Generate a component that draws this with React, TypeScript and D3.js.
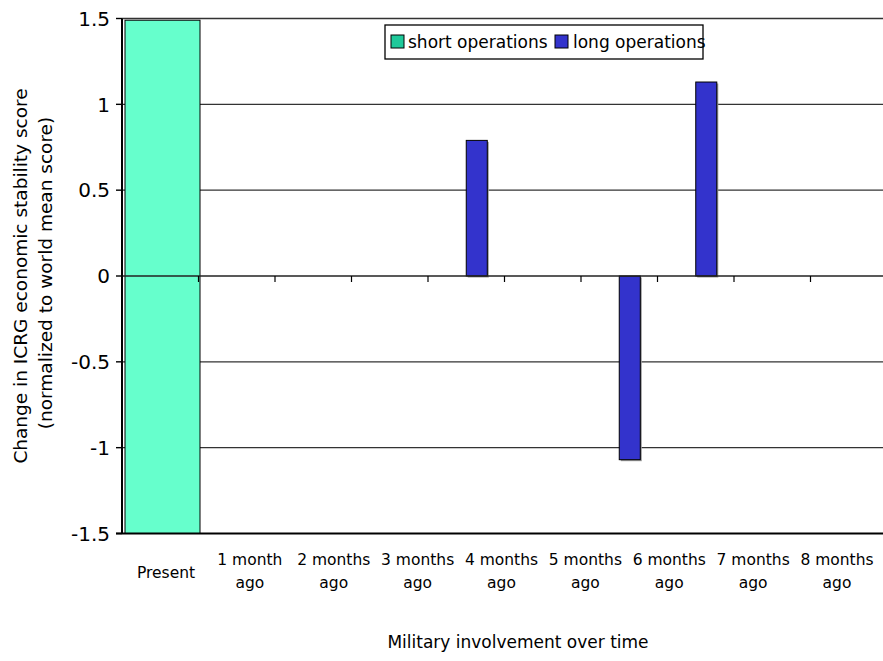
import React from "react";
import * as d3 from "d3";

// ---- data ----
const slots = ["s0", "s1", "s2", "s3", "s4", "s5", "s6", "s7", "s8", "s9"];
const shortOps = [1.49, 0, 0, 0, 0, 0, 0, 0, 0, 0];
const longOps = [0, 0, 0, 0, 0.79, 0, -1.07, 1.13, 0, 0];
const categoryLabels = [
  ["Present"],
  ["1 month", "ago"],
  ["2 months", "ago"],
  ["3 months", "ago"],
  ["4 months", "ago"],
  ["5 months", "ago"],
  ["6 months", "ago"],
  ["7 months", "ago"],
  ["8 months", "ago"],
];
const yTicks = [1.5, 1, 0.5, 0, -0.5, -1, -1.5];
const seriesNames = ["short operations", "long operations"];

// ---- styles ----
const W = 883;
const H = 661;
const FONT = "'DejaVu Sans', Verdana, sans-serif";
const SHORT_FILL = "#66ffcc";
const SHORT_LEGEND = "#1fc99a";
const LONG_FILL = "#3333cc";

export default function App() {
  const plot = { left: 122, right: 887, top: 18.5, bottom: 533.5 };
  const x = d3.scaleBand<string>().domain(slots).range([plot.left, plot.right]).padding(0);
  const y = d3.scaleLinear().domain([-1.5, 1.5]).range([plot.bottom, plot.top]);
  const labelX = d3
    .scalePoint<string>()
    .domain(categoryLabels.map((d) => d.join(" ")))
    .range([166, 837]);
  const bw = x.bandwidth();

  return (
    <svg
      width={W}
      height={H}
      style={{ position: "absolute", left: 0, top: 0, background: "#fff" }}
      fontFamily={FONT}
    >
      <rect x={0} y={0} width={W} height={H} fill="#fff" />
      {/* gridlines */}
      {yTicks
        .filter((t) => t !== 0 && t !== -1.5)
        .map((t) => (
          <line key={t} x1={plot.left} x2={plot.right} y1={y(t)} y2={y(t)} stroke="#333" strokeWidth={1.4} />
        ))}

      {/* short operations bar (present) */}
      {shortOps.map((v, i) =>
        v !== 0 ? (
          <rect
            key={"s" + i}
            x={(x(slots[i]) as number) + 3}
            y={y(v)}
            width={bw - 1.5}
            height={y(-1.5) - y(v)}
            fill={SHORT_FILL}
            stroke="#000"
            strokeWidth={1}
          />
        ) : null
      )}

      {/* long operations bars */}
      {longOps.map((v, i) =>
        v !== 0 ? (
          <g key={"l" + i}>
            <rect
              x={(x(slots[i]) as number) + bw / 2 + 1.5}
              y={Math.min(y(v), y(0)) + 1.5}
              width={bw * 0.275}
              height={Math.abs(y(v) - y(0))}
              fill="#999"
            />
            <rect
              x={(x(slots[i]) as number) + bw / 2}
              y={Math.min(y(v), y(0))}
              width={bw * 0.275}
              height={Math.abs(y(v) - y(0))}
              fill={LONG_FILL}
              stroke="#000"
              strokeWidth={1}
            />
          </g>
        ) : null
      )}

      {/* zero axis with category ticks */}
      <line x1={plot.left} x2={plot.right} y1={y(0)} y2={y(0)} stroke="#222" strokeWidth={1.6} />
      {slots.map((s, i) =>
        i > 0 ? (
          <line
            key={"t" + i}
            x1={x(s) as number}
            x2={x(s) as number}
            y1={y(0)}
            y2={y(0) + 6}
            stroke="#000"
            strokeWidth={1.2}
          />
        ) : null
      )}

      {/* bottom line */}
      <line x1={plot.left - 6} x2={plot.right} y1={y(-1.5)} y2={y(-1.5)} stroke="#000" strokeWidth={2} />
      {/* left axis */}
      <line x1={plot.left} x2={plot.left} y1={plot.top} y2={plot.bottom} stroke="#000" strokeWidth={2} />
      {yTicks.map((t) => (
        <g key={"yt" + t}>
          <line x1={plot.left - 6} x2={plot.left} y1={y(t)} y2={y(t)} stroke="#000" strokeWidth={1.4} />
          <text x={110} y={y(t)} dy="0.36em" textAnchor="end" fontSize={20} fill="#000">
            {String(t)}
          </text>
        </g>
      ))}

      {/* category labels */}
      {categoryLabels.map((lines) => {
        const key = lines.join(" ");
        const cx = labelX(key) as number;
        if (lines.length === 1) {
          return (
            <text key={key} x={cx} y={578} textAnchor="middle" fontSize={15.5} fill="#000">
              {lines[0]}
            </text>
          );
        }
        return (
          <text key={key} x={cx} textAnchor="middle" fontSize={15.5} fill="#000">
            <tspan x={cx} y={565}>
              {lines[0]}
            </tspan>
            <tspan x={cx} y={588}>
              {lines[1]}
            </tspan>
          </text>
        );
      })}

      {/* axis titles */}
      <text x={518} y={648} textAnchor="middle" fontSize={17} fill="#000">
        Military involvement over time
      </text>
      <text transform="translate(27,276) rotate(-90)" textAnchor="middle" fontSize={18.5} fill="#000">
        Change in ICRG economic stability score
      </text>
      <text transform="translate(52,273) rotate(-90)" textAnchor="middle" fontSize={18.5} fill="#000">
        (normalized to world mean score)
      </text>

      {/* legend */}
      <rect x={385} y={25} width={318} height={34} fill="#fff" stroke="#000" strokeWidth={1.3} />
      <rect x={391} y={35} width={13} height={13} fill={SHORT_LEGEND} stroke="#000" strokeWidth={1} />
      <text x={408} y={48} fontSize={17} fill="#000">
        {seriesNames[0]}
      </text>
      <rect x={555} y={35} width={13} height={13} fill={LONG_FILL} stroke="#000" strokeWidth={1} />
      <text x={573} y={48} fontSize={17} fill="#000">
        {seriesNames[1]}
      </text>
    </svg>
  );
}
